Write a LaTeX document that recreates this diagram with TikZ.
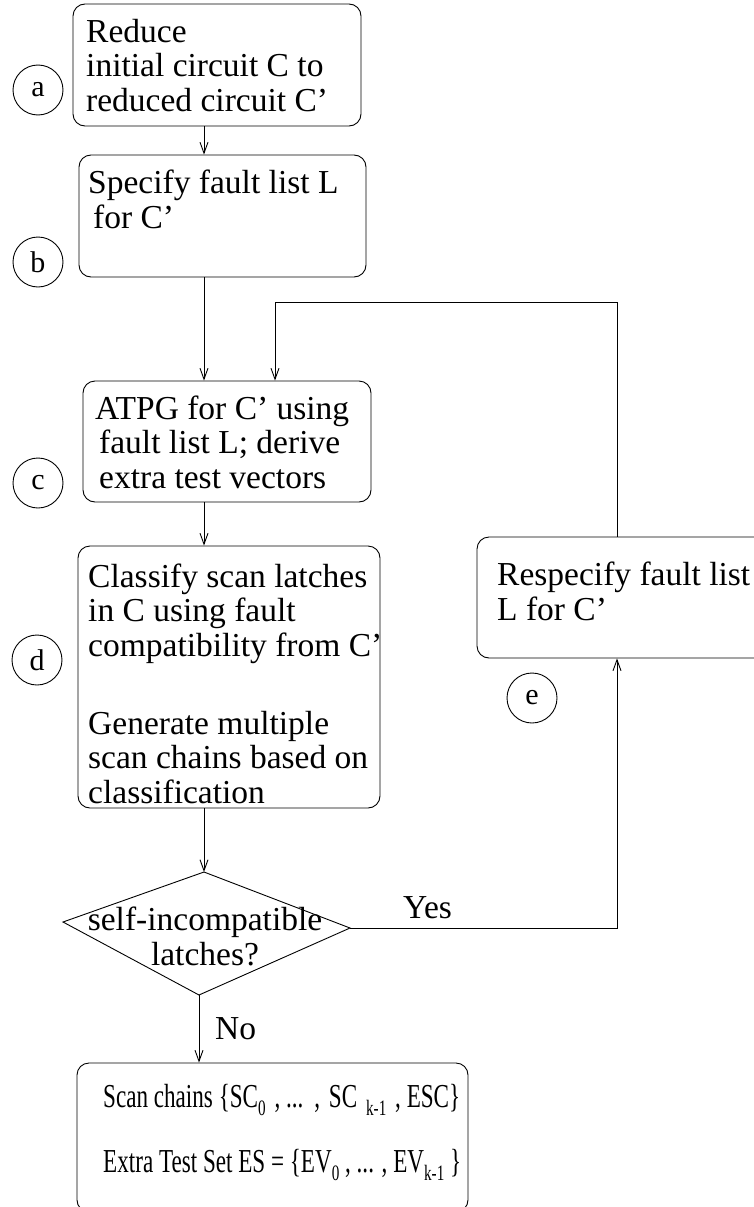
\documentclass[tikz,border=0pt]{standalone}
\usepackage{fontspec}
\setmainfont{Liberation Serif}
\usetikzlibrary{arrows.meta}
\newcommand{\lsub}[1]{\raisebox{-8pt}{\fontsize{22}{22}\selectfont #1}}
\newcommand{\narrow}[1]{\scalebox{0.69}[1]{#1}}
\newcommand{\gap}{\hspace{4.5pt}}

\begin{document}
\begin{tikzpicture}[x=1pt, y=-1pt,
    every node/.style={font=\fontsize{33.5}{34.5}\selectfont},
    box/.style={draw, rounded corners=12pt, line width=0.9pt, inner sep=0pt},
    txt/.style={align=left, inner sep=0pt, anchor=base west},
    tag/.style={draw, circle, minimum size=50pt, inner sep=0pt, line width=0.9pt, font=\fontsize{30}{30}\selectfont},
    arr/.style={-{Straight Barb[length=11pt,width=8pt]}, line width=0.9pt}
  ]
  \useasboundingbox (0,0) rectangle (754,1207);
  \clip (0,0) rectangle (754,1207);
  \coordinate (spine) at (204,0);
  \coordinate (rt) at (617,302);
  \coordinate (lf) at (275,302);

  % steps
  \node[box, minimum width=288pt, minimum height=122pt] (a) at (217,65) {};
  \node[box, minimum width=287pt, minimum height=122pt] (b) at (222.5,216) {};
  \node[box, minimum width=288pt, minimum height=121pt] (c) at (227,441.5) {};
  \node[box, minimum width=302pt, minimum height=262pt] (d) at (229,677) {};
  \node[box, minimum width=303pt, minimum height=121pt] (e) at (628.5,597.5) {};
  \node[box, minimum width=391pt, minimum height=149pt] (s) at (272.5,1137.5) {};

  % texts, anchored at the baseline of their last line
  \node[txt] (ta) at (86,111) {Reduce\\initial circuit C to\\reduced circuit C'};
  \node[txt] (tb) at (88,228) {Specify fault list L\\\hspace{5pt}for C'};
  \node[txt] (tc) at (95,488) {ATPG for C' using\\\hspace{4pt}fault list L; derive\\\hspace{4pt}extra test vectors};
  \node[txt] (td) at (88,803) {Classify scan latches\\in C using fault\\compatibility from C'\\[43.5pt]Generate multiple\\scan chains based on\\classification};
  \node[txt] (te) at (497,620) {Respecify fault list\\L for C'};
  \node[txt] (ts) at (103,1172) {\narrow{Scan chains \{SC\lsub{0}\gap{} , ...\gap{} ,\gap{} SC\gap{} \lsub{k-1}\gap{} , ESC\}}\\[30.5pt]%
    \narrow{Extra Test Set ES = \{EV\lsub{0} , ... , EV\lsub{k-1} \}}};

  % decision
  \coordinate (qt) at (204,872);
  \coordinate (qr) at (350,928);
  \coordinate (qb) at (199,995);
  \coordinate (ql) at (63,922);
  \draw[line width=0.9pt] (qt) -- (qr) -- (qb) -- (ql) -- cycle;
  \node[align=center, inner sep=0pt, anchor=base] (q) at (205,965) {self-incompatible\\latches?};

  % step tags
  \node[tag] (la) at (38,90) {a};
  \node[tag] (lb) at (38,262) {b};
  \node[tag] (lc) at (38,483) {c};
  \node[tag] (ld) at (37,660) {d};
  \node[tag] (le) at (532,698) {e};

  % flow
  \draw[arr] (a.south -| spine) -- (b.north -| spine);
  \draw[arr] (b.south -| spine) -- (c.north -| spine);
  \draw[arr] (c.south -| spine) -- (d.north -| spine);
  \draw[arr] (d.south -| spine) -- (qt);
  \draw[arr] (qb) -- (s.north -| qb);
  \draw[arr] (qr) -| (e.south -| rt);
  \draw[arr] (e.north -| rt) -- (rt) -- (lf) -- (c.north -| lf);
  \node[txt] (yes) at (403,918) {Yes};
  \node[txt] (no) at (215,1039) {No};
\end{tikzpicture}
\end{document}
